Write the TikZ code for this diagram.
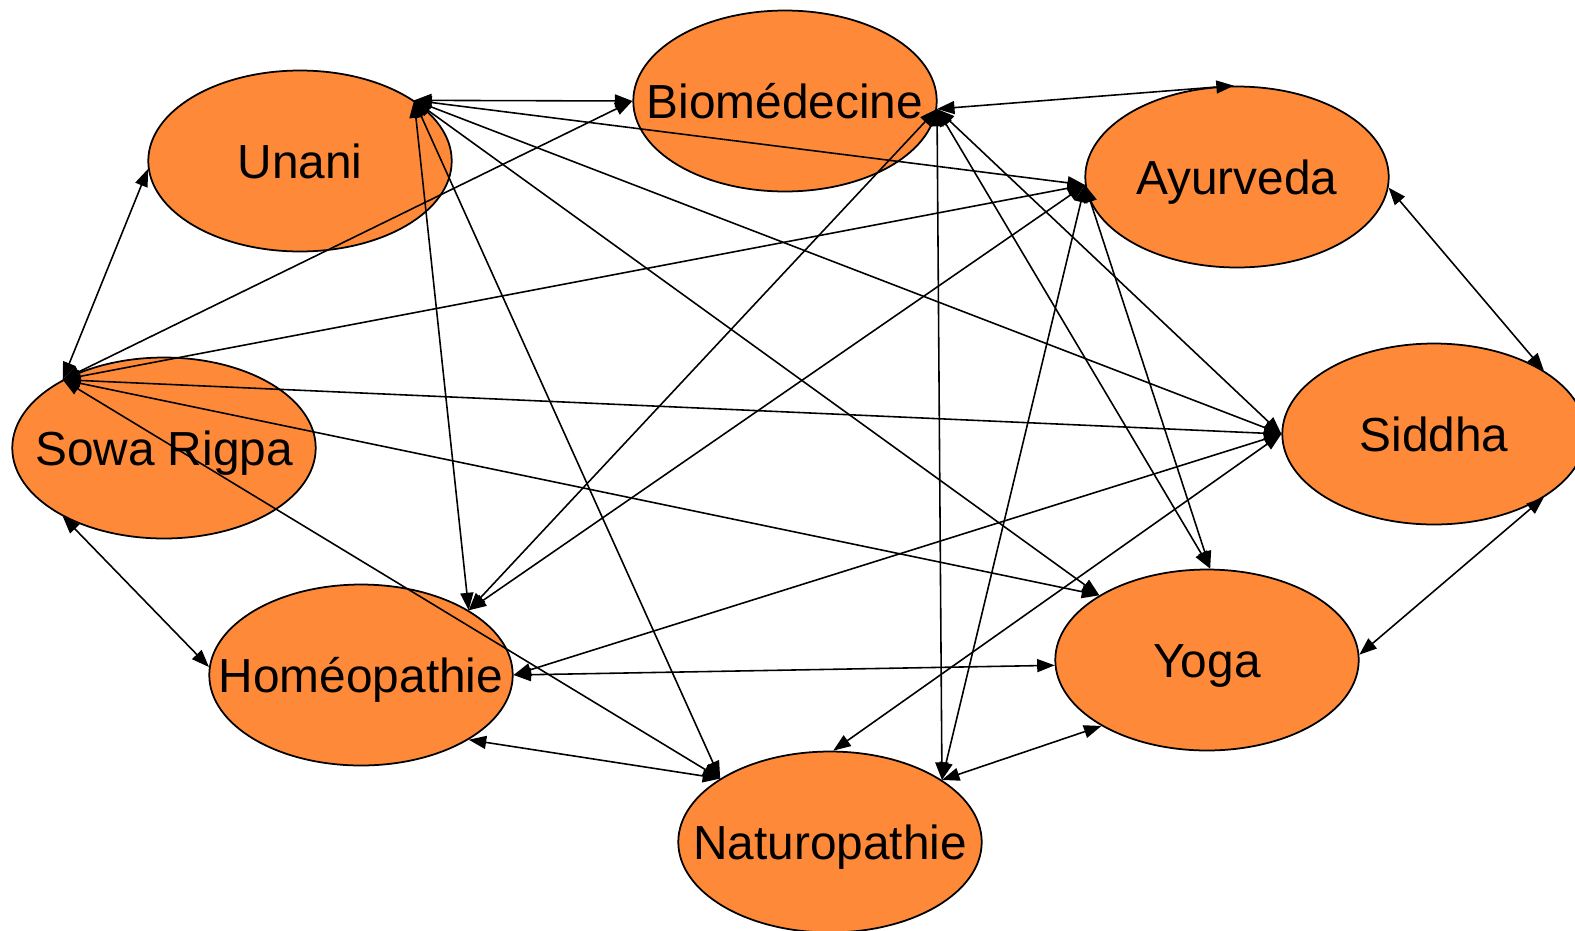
\documentclass[tikz,border=0pt]{standalone}
\usepackage{fontspec}
\setmainfont{Liberation Sans}
\usepackage{xcolor}
\usetikzlibrary{arrows.meta,shapes.geometric}
\newcommand{\sysfont}{\fontsize{27.2}{32}\selectfont}
\definecolor{sysOrange}{RGB}{254,138,57}
\tikzset{
  sysNode/.style={ellipse, draw=black, line width=1pt, fill=sysOrange,
    minimum width=6.07cm, minimum height=3.62cm, inner sep=0pt,
    font=\sysfont, text=black, text height=19.5pt, text depth=0pt},
  sysLink/.style={{Triangle[length=3.5mm,width=2.6mm]}-{Triangle[length=3.5mm,width=2.6mm]},
    line width=.9pt, draw=black}
}
\begin{document}
\begin{tikzpicture}[x=0.02cm,y=-0.02cm]
\useasboundingbox (0,0) rectangle (1575,930);
% the eight systems
\node[sysNode] (unani) at (300,161) {\makebox[0pt]{Unani}};
\node[sysNode] (bio) at (785,101) {\makebox[0pt]{Biomédecine}};
\node[sysNode] (ayur) at (1237,177) {\makebox[0pt]{Ayurveda}};
\node[sysNode] (siddha) at (1434,434) {\makebox[0pt]{Siddha}};
\node[sysNode] (sowa) at (164,448) {\makebox[0pt]{Sowa Rigpa}};
\node[sysNode] (homeo) at (361,675) {\makebox[0pt]{Homéopathie}};
\node[sysNode] (yoga) at (1207,660) {\makebox[0pt]{Yoga}};
\node[sysNode] (natur) at (830,842) {\makebox[0pt]{Naturopathie}};
% Unani
\draw[sysLink] (unani.28) -- (bio.180);
\draw[sysLink] (unani.28) -- (ayur.183);
\draw[sysLink] (unani.28) -- (siddha.180);
\draw[sysLink] (unani.28) -- (yoga.149);
\draw[sysLink] (unani.28) -- (natur.150);
\draw[sysLink] (unani.28) -- (homeo.31);
\draw[sysLink] (unani.183) -- (sowa.146);
% Biomedecine
\draw[sysLink] (sowa.146) -- (bio.180);
\draw[sysLink] (bio.-3) -- (ayur.92);
\draw[sysLink] (bio.-3) -- (homeo.31);
\draw[sysLink] (bio.-3) -- (natur.29);
\draw[sysLink] (bio.-3) -- (yoga.88);
\draw[sysLink] (bio.-3) -- (siddha.180);
% Ayurveda
\draw[sysLink] (ayur.183) -- (sowa.146);
\draw[sysLink] (ayur.183) -- (homeo.31);
\draw[sysLink] (ayur.183) -- (natur.29);
\draw[sysLink] (ayur.183) -- (yoga.88);
\draw[sysLink] (ayur.-4) -- (siddha.30);
% Siddha
\draw[sysLink] (siddha.180) -- (sowa.146);
\draw[sysLink] (siddha.180) -- (homeo.0);
\draw[sysLink] (siddha.180) -- (natur.88);
\draw[sysLink] (siddha.-30) -- (yoga.2);
% Sowa Rigpa
\draw[sysLink] (sowa.146) -- (yoga.149);
\draw[sysLink] (sowa.146) -- (natur.150);
\draw[sysLink] (sowa.214) -- (homeo.177);
% Homeopathie, Yoga
\draw[sysLink] (homeo.0) -- (yoga.182);
\draw[sysLink] (homeo.-31) -- (natur.150);
\draw[sysLink] (yoga.212) -- (natur.29);
\end{tikzpicture}
\end{document}
